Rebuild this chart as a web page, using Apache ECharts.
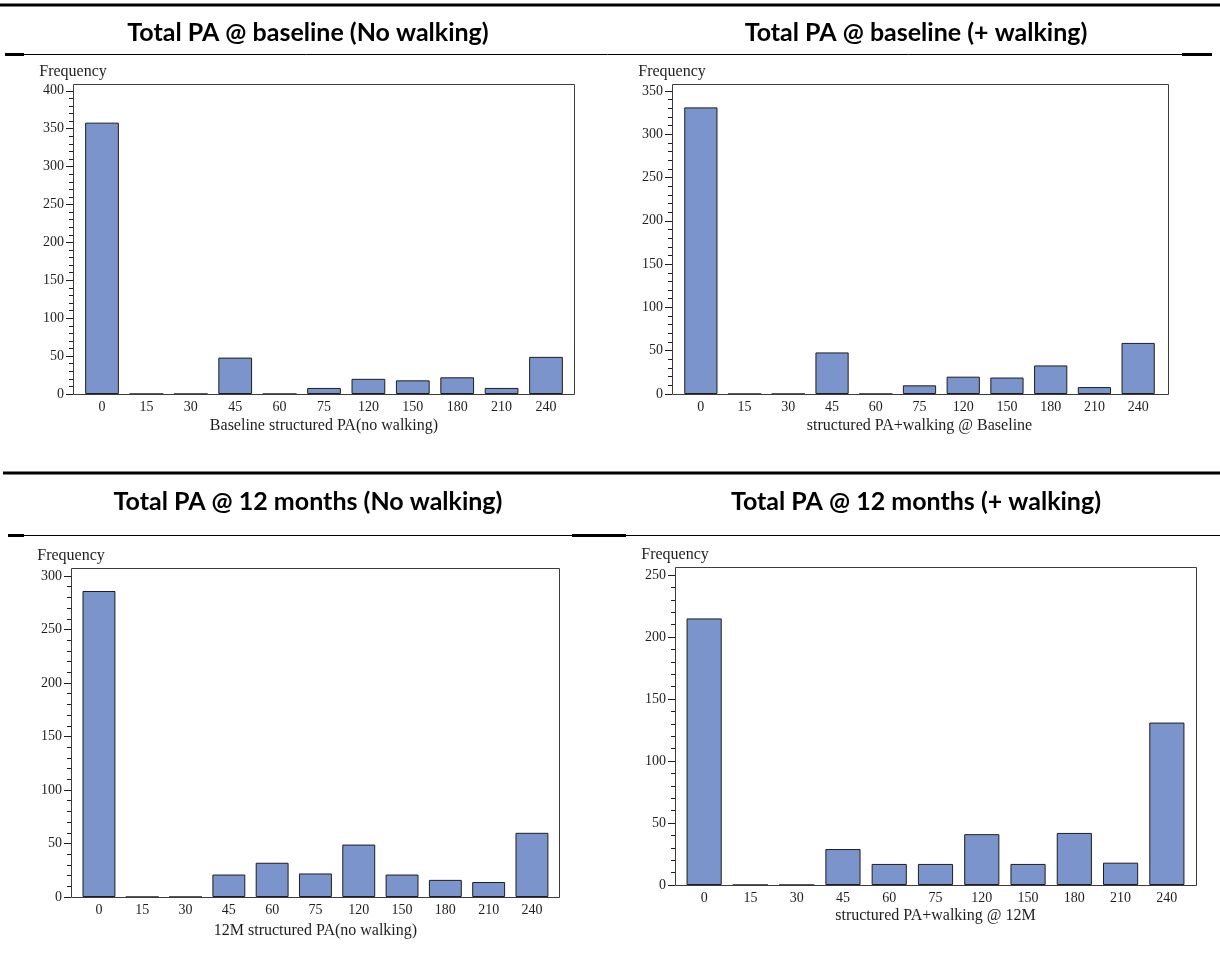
<!DOCTYPE html>
<html>
<head>
<meta charset="utf-8">
<script src="https://cdn.jsdelivr.net/npm/echarts@6/dist/echarts.min.js"></script>
<style>
  html, body { margin: 0; padding: 0; background: #ffffff; }
  #chart { width: 1220px; height: 976px; }
</style>
</head>
<body>
<div id="chart"></div>
<script>
// Minutes of structured physical activity (category labels shared by all panels)
const minuteCategories = ['0', '15', '30', '45', '60', '75', '120', '150', '180', '210', '240'];

// Frequency counts per category
const baselineNoWalking = [358, 0, 0, 48, 0, 8, 20, 18, 22, 8, 49];
const baselineWalking   = [331, 0, 0, 48, 0, 10, 20, 19, 33, 8, 59];
const month12NoWalking  = [286, 0, 0, 21, 32, 22, 49, 21, 16, 14, 60];
const month12Walking    = [215, 0, 0, 29, 17, 17, 41, 17, 42, 18, 131];

// Panel headings and axis titles
const panelTitles = [
  'Total PA @ baseline (No walking)',
  'Total PA @ baseline (+ walking)',
  'Total PA @ 12 months (No walking)',
  'Total PA @ 12 months (+ walking)'
];
const xAxisTitles = [
  'Baseline structured PA(no walking)',
  'structured PA+walking @ Baseline',
  '12M structured PA(no walking)',
  'structured PA+walking @ 12M'
];
const yAxisTitle = 'Frequency';

// Y tick labels for each panel
const yTicks1 = [0, 50, 100, 150, 200, 250, 300, 350, 400];
const yTicks2 = [0, 50, 100, 150, 200, 250, 300, 350];
const yTicks3 = [0, 50, 100, 150, 200, 250, 300];
const yTicks4 = [0, 50, 100, 150, 200, 250];
const yAxisTop = [409, 358, 307.5, 256.5];

const seriesData = [baselineNoWalking, baselineWalking, month12NoWalking, month12Walking];
const yTickSets = [yTicks1, yTicks2, yTicks3, yTicks4];

// Layout: outer plot frame and the inner band area for the bars
const panels = [
  { frame: { x: 73,  y: 84,  w: 501, h: 310 }, band: { left: 79.8, width: 488.4 }, titleX: 308, titleY: 33,  nameGap: 24 },
  { frame: { x: 672, y: 84,  w: 496, h: 310 }, band: { left: 679,  width: 481   }, titleX: 916, titleY: 33,  nameGap: 24 },
  { frame: { x: 71,  y: 568, w: 488, h: 329 }, band: { left: 77.3, width: 476.3 }, titleX: 308, titleY: 502, nameGap: 26 },
  { frame: { x: 675, y: 567, w: 521, h: 318 }, band: { left: 681,  width: 509   }, titleX: 916, titleY: 502, nameGap: 23 }
];

const serif = '"Liberation Serif", "DejaVu Serif", serif';
const barFill = '#7b94cb';
const ink = '#1e1e1e';

// minor ticks every 10 between the labelled ticks
function minorTicks(majors) {
  const out = [];
  const last = majors[majors.length - 1];
  for (let v = 10; v < last; v += 10) {
    if (v % 50 !== 0) out.push(v);
  }
  return out;
}

const grids = [], xAxes = [], yAxes = [], series = [], graphics = [];

panels.forEach((p, i) => {
  grids.push({
    left: p.band.left,
    top: p.frame.y,
    width: p.band.width,
    height: p.frame.h,
    containLabel: false
  });
  xAxes.push({
    type: 'category',
    gridIndex: i,
    data: minuteCategories,
    boundaryGap: true,
    axisLine: { show: false },
    axisTick: { show: false },
    axisLabel: { color: ink, fontFamily: serif, fontSize: 14, margin: 6 },
    name: xAxisTitles[i],
    nameLocation: 'middle',
    nameGap: p.nameGap,
    nameTextStyle: { color: ink, fontFamily: serif, fontSize: 16, verticalAlign: 'top' }
  });
  const offset = p.band.left - p.frame.x;
  // labelled axis
  yAxes.push({
    type: 'value',
    gridIndex: i,
    position: 'left',
    min: 0,
    max: yAxisTop[i],
    offset: offset,
    splitLine: { show: false },
    axisLine: { show: false },
    axisTick: { show: true, length: 7, customValues: yTickSets[i], lineStyle: { color: ink, width: 1 } },
    axisLabel: { show: true, customValues: yTickSets[i], color: ink, fontFamily: serif, fontSize: 14, margin: 9 },
    name: yAxisTitle,
    nameLocation: 'end',
    nameGap: 4,
    nameTextStyle: { color: ink, fontFamily: serif, fontSize: 16, align: 'center' }
  });
  // minor ticks
  yAxes.push({
    type: 'value',
    gridIndex: i,
    position: 'left',
    min: 0,
    max: yAxisTop[i],
    offset: offset,
    splitLine: { show: false },
    axisLine: { show: false },
    axisLabel: { show: false },
    axisTick: { show: true, length: 4, customValues: minorTicks(yTickSets[i]), lineStyle: { color: ink, width: 1 } }
  });
  series.push({
    type: 'bar',
    xAxisIndex: i,
    yAxisIndex: i * 2,
    data: seriesData[i],
    barCategoryGap: '24%',
    itemStyle: { color: barFill, borderColor: ink, borderWidth: 1 },
    silent: true
  });
  // plot frame
  graphics.push({
    type: 'rect',
    shape: { x: p.frame.x + 0.5, y: p.frame.y + 0.5, width: p.frame.w, height: p.frame.h },
    style: { fill: null, stroke: '#3c3c3c', lineWidth: 1 },
    z: 100
  });
  // panel heading
  graphics.push({
    type: 'text',
    x: p.titleX,
    y: p.titleY,
    style: {
      text: panelTitles[i],
      fontFamily: 'Lato, "Open Sans", sans-serif',
      fontWeight: 'bold',
      fontSize: 25,
      fill: '#000',
      textAlign: 'center',
      textVerticalAlign: 'middle'
    }
  });
});

// table rules around the headings
function rule(x1, x2, y, w) {
  graphics.push({
    type: 'line',
    shape: { x1: x1, y1: y, x2: x2, y2: y },
    style: { stroke: '#000', lineWidth: w }
  });
}
rule(0, 1220, 5, 3);
rule(5, 1210, 54.5, 1);
rule(5, 24, 54.5, 3);
rule(1182, 1212, 54.5, 3);
rule(3, 1220, 473, 3);
rule(8, 1220, 535.5, 1);
rule(8, 24, 535.5, 3);
rule(572, 626, 535.5, 3);

const chart = echarts.init(document.getElementById('chart'), null, { renderer: 'canvas' });
chart.setOption({
  animation: false,
  backgroundColor: '#ffffff',
  grid: grids,
  xAxis: xAxes,
  yAxis: yAxes,
  series: series,
  graphic: graphics
});
</script>
</body>
</html>
